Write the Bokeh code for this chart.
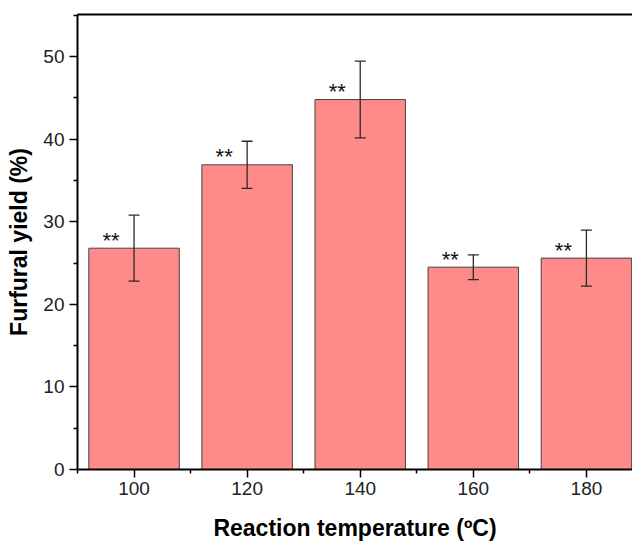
from bokeh.plotting import figure
from bokeh.models import (ColumnDataSource, Whisker, TeeHead, FixedTicker, LinearAxis,
                          Range1d)
from bokeh.core.properties import value
from bokeh.embed import file_html
from bokeh.resources import INLINE

# ---- data ----
temperatures = [100, 120, 140, 160, 180]
yield_mean = [26.8, 36.9, 44.8, 24.5, 25.6]
yield_err = [4.0, 2.85, 4.65, 1.5, 3.4]
signif = ["**", "**", "**", "**", "**"]
x_ticks = [100, 120, 140, 160, 180]
y_ticks = [0, 10, 20, 30, 40, 50]

src = ColumnDataSource(dict(
    x=temperatures,
    top=yield_mean,
    upper=[m + e for m, e in zip(yield_mean, yield_err)],
    lower=[m - e for m, e in zip(yield_mean, yield_err)],
    star=signif,
))

FONT = "Liberation Sans"

p = figure(width=632, height=544, output_backend="svg", toolbar_location=None,
           x_range=Range1d(90, 188.15), y_range=Range1d(0, 55.1),
           min_border_left=77, min_border_right=0, min_border_top=14,
           min_border_bottom=75)
p.outline_line_color = None
p.grid.grid_line_color = None
p.background_fill_color = "white"

p.vbar(x="x", top="top", width=16, source=src, fill_color="#FF8A8A",
       line_color="#444444", line_width=1)

w = Whisker(base="x", upper="upper", lower="lower", source=src, level="overlay",
            line_color="#2a2a2a", line_width=1.3,
            upper_head=TeeHead(size=11, line_color="#2a2a2a", line_width=1.3),
            lower_head=TeeHead(size=11, line_color="#2a2a2a", line_width=1.3))
p.add_layout(w)

p.text(x="x", y="top", text="star", source=src, x_offset=-23, y_offset=-8,
       text_font=value(FONT), text_font_size="22px", text_color="#111111",
       text_align="center", text_baseline="alphabetic")

# axes
xa = p.xaxis[0]
xa.ticker = FixedTicker(ticks=x_ticks, minor_ticks=[90, 110, 130, 150, 170, 190])
ya = p.yaxis[0]
ya.ticker = FixedTicker(ticks=y_ticks, minor_ticks=[5, 15, 25, 35, 45, 55])
for ax in (xa, ya):
    ax.axis_line_width = 2
    ax.axis_line_color = "black"
    ax.major_tick_in = 0
    ax.major_tick_out = 8
    ax.minor_tick_in = 0
    ax.minor_tick_out = 4
    ax.major_tick_line_width = 1.5
    ax.minor_tick_line_width = 1.5
    ax.major_label_text_font = FONT
    ax.major_label_text_font_size = "19px"
    ax.major_label_text_color = "#222222"
    ax.axis_label_text_font = FONT
    ax.axis_label_text_font_size = "23px"
    ax.axis_label_text_font_style = "bold"
    ax.axis_label_text_color = "black"
xa.axis_label = "Reaction temperature (ºC)"
ya.axis_label = "Furfural yield (%)"
xa.major_label_standoff = 4
xa.axis_label_standoff = 17
ya.major_label_standoff = 5
ya.axis_label_standoff = 8

top_axis = LinearAxis(major_tick_in=0, major_tick_out=0, minor_tick_in=0,
                      minor_tick_out=0, major_label_text_font_size="0px",
                      axis_line_width=2, axis_line_color="black")
top_axis.ticker = FixedTicker(ticks=[])
p.add_layout(top_axis, "above")

open("out.html", "w").write(file_html(p, INLINE))
